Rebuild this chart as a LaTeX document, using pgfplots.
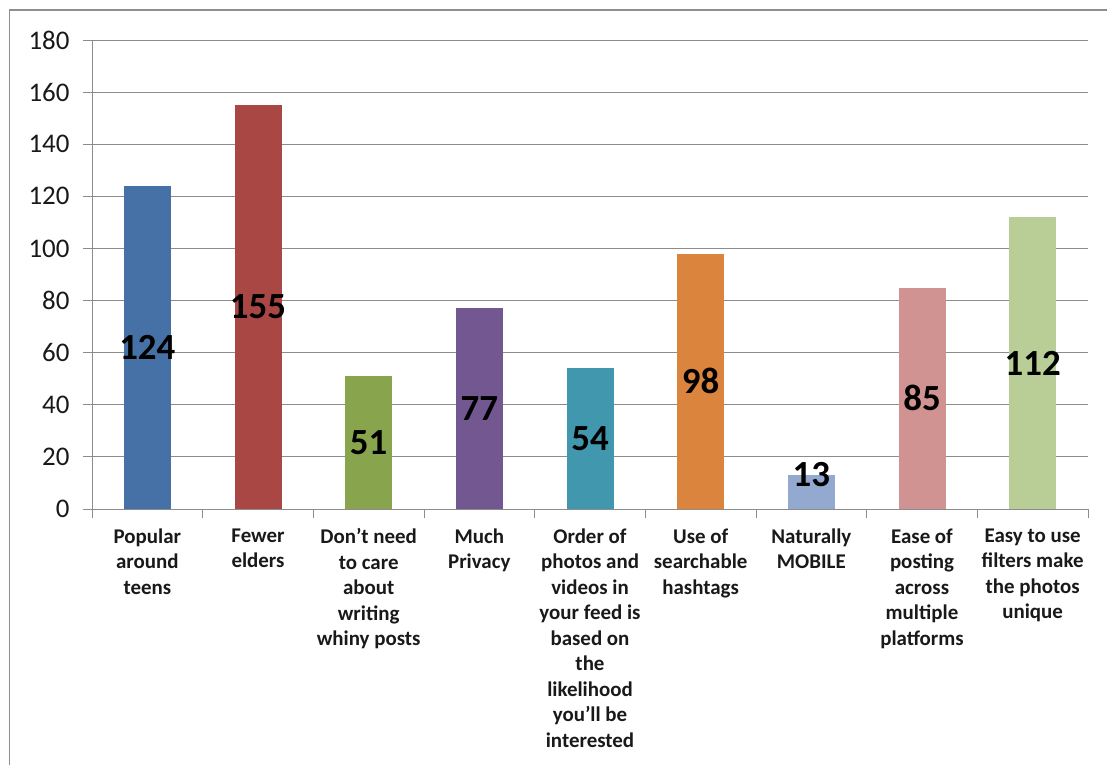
\documentclass[border=0pt]{standalone}
\usepackage{pgfplots}
\pgfplotsset{compat=1.18}
\usepackage{fontspec}
\setmainfont{Carlito}
\definecolor{cA}{HTML}{4671A6}
\definecolor{cB}{HTML}{A84744}
\definecolor{cC}{HTML}{88A54E}
\definecolor{cD}{HTML}{735790}
\definecolor{cE}{HTML}{4198AE}
\definecolor{cF}{HTML}{DB843D}
\definecolor{cG}{HTML}{93A9CF}
\definecolor{cH}{HTML}{D19392}
\definecolor{cI}{HTML}{B9CD96}
\definecolor{gridc}{HTML}{8C8C8C}
\definecolor{framec}{HTML}{8E8E8E}
\begin{document}
\begin{tikzpicture}
\useasboundingbox (0,0) rectangle (1107bp,765bp);
\draw[framec, line width=1.6bp] (9.5bp,0) -- (9.5bp,755bp) -- (1107bp,755bp);
\begin{axis}[
  at={(92bp,256bp)}, anchor=south west,
  scale only axis, width=996bp, height=469bp,
  xmin=-0.5, xmax=8.5, ymin=0, ymax=180,
  axis x line*=bottom, axis y line*=left,
  axis line style={gridc, line width=0.9bp},
  ytick={0,20,...,180},
  ymajorgrids, grid style={gridc, line width=0.9bp},
  tick align=outside, major tick length=9bp,
  tick style={gridc, line width=0.9bp},
  /pgf/number format/assume math mode=true,
  yticklabel style={font=\fontsize{27}{30}\selectfont, text=black!90, xshift=-10bp},
  xtick={-0.5,0.5,...,8.5},
  xticklabels={,,,,,,,,,,},
  extra x ticks={0,1,2,3,4,5,6,7,8},
  extra x tick style={major tick length=0pt, grid=none},
  extra x tick labels={{Popular\\around\\teens},{Fewer\\elders},{Don’t need\\to care\\about\\writing\\whiny posts},{Much\\Privacy},{Order of\\photos and\\videos in\\your feed is\\based on\\the\\likelihood\\you’ll be\\interested},{Use of\\searchable\\hashtags},{Naturally\\MOBILE},{Ease of\\posting\\across\\multiple\\platforms},{Easy to use\\filters make\\the photos\\unique}},
  xticklabel style={align=center, font=\fontsize{21}{25.6}\selectfont\bfseries, text=black!90, anchor=north, yshift=-16bp},
]
\addplot[ybar, bar width=47bp, bar shift=0pt, fill=cA, draw=none] coordinates {(0,124)};
\addplot[ybar, bar width=47bp, bar shift=0pt, fill=cB, draw=none] coordinates {(1,155)};
\addplot[ybar, bar width=47bp, bar shift=0pt, fill=cC, draw=none] coordinates {(2,51)};
\addplot[ybar, bar width=47bp, bar shift=0pt, fill=cD, draw=none] coordinates {(3,77)};
\addplot[ybar, bar width=47bp, bar shift=0pt, fill=cE, draw=none] coordinates {(4,54)};
\addplot[ybar, bar width=47bp, bar shift=0pt, fill=cF, draw=none] coordinates {(5,98)};
\addplot[ybar, bar width=47bp, bar shift=0pt, fill=cG, draw=none] coordinates {(6,13)};
\addplot[ybar, bar width=47bp, bar shift=0pt, fill=cH, draw=none] coordinates {(7,85)};
\addplot[ybar, bar width=47bp, bar shift=0pt, fill=cI, draw=none] coordinates {(8,112)};
\addplot[draw=none, mark=none, nodes near coords, point meta=explicit symbolic,
  nodes near coords style={anchor=center, font=\fontsize{37}{37}\selectfont\bfseries, text=black}]
  coordinates {(0,62)[124] (1,77.5)[155] (2,25.5)[51] (3,38.5)[77] (4,27)[54] (5,49)[98] (6,13.4)[13] (7,42.5)[85] (8,56)[112]};
\end{axis}
\end{tikzpicture}
\end{document}
